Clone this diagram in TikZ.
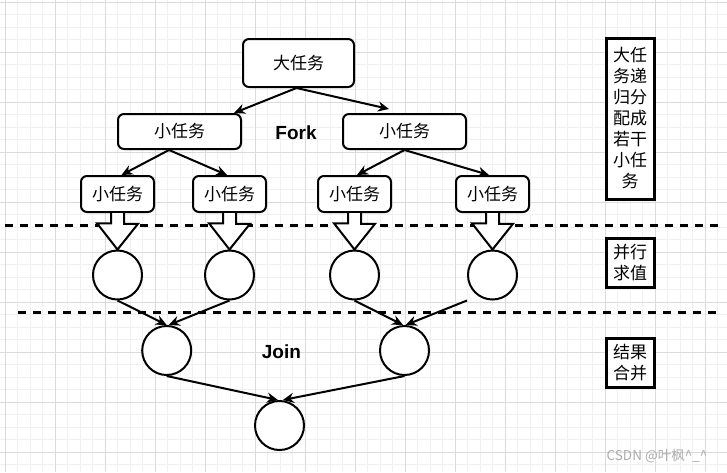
\documentclass[tikz,border=0pt]{standalone}
\usepackage{fontspec}
\setmainfont{Liberation Sans}
\newfontfamily\cjk{Noto Sans CJK SC}
\usetikzlibrary{positioning,arrows.meta}

\begin{document}
\begin{tikzpicture}[x=1pt,y=-1pt,
        task/.style={draw, line width=2pt, rounded corners=6pt, fill=white, inner sep=0pt,
            font=\cjk\fontsize{17}{20}\selectfont},
        res/.style={draw, circle, line width=2pt, fill=white, minimum size=49pt, inner sep=0pt},
        note/.style={draw, line width=3pt, fill=white, minimum width=48pt, align=center, inner sep=0pt,
            font=\cjk\fontsize{17}{21}\selectfont},
        link/.style={line width=2pt, -{Stealth[length=11pt,width=10pt]}},
        hollow/.style={line width=2pt, fill=white, line join=miter},
        cut/.style={line width=3pt, dash pattern=on 8pt off 7pt},
        tag/.style={font=\bfseries\fontsize{19}{22}\selectfont}]
    \useasboundingbox (0,0) rectangle (727,472);
    \fill[white] (0,0) rectangle (727,472);
    \foreach \x in {-7.5,5,...,727} \draw[gray!12, line width=0.8pt] (\x,0) -- (\x,472);
    \foreach \y in {-10.5,2,...,472} \draw[gray!12, line width=0.8pt] (0,\y) -- (727,\y);
    \foreach \x in {5,55,...,705} \draw[gray!28, line width=0.8pt] (\x,0) -- (\x,472);
    \foreach \y in {2,52,...,452} \draw[gray!28, line width=0.8pt] (0,\y) -- (727,\y);

    \draw[cut] (5,225) -- (719,225);
    \draw[cut] (18,312.7) -- (716,312.7);

    \node[task, minimum width=111pt, minimum height=48pt] (big) at (298.5,63) {大任务};
    \node[task, minimum width=123pt, minimum height=35pt] (l1a) at (179.5,131.5) {小任务};
    \node[task, minimum width=123pt, minimum height=35pt] (l1b) at (404.5,131.5) {小任务};
    \node[tag] (fork) at (296,133) {Fork};

    \foreach \n/\x in {a/117.5,b/229.5,c/354.5,d/492.5} {
        \node[task, minimum width=73pt, minimum height=36pt] (l2\n) at (\x,194) {小任务};
        \node[res] (c\n) at (\x,275) {};
        \draw[hollow] ([xshift=-6.5pt]l2\n.south) -- ++(0,10.3) -- ++(-14,0) -- (c\n.north)
            -- ++(20.5,-25.7) -- ++(-14,0) -- ([xshift=6.5pt]l2\n.south);
    }

    \node[res] (ja) at (166.7,350.5) {};
    \node[res] (jb) at (404.5,350.5) {};
    \node[res] (jc) at (279.5,425.5) {};
    \node[tag] (join) at (281.4,351.7) {Join};

    \draw[link] ([xshift=-2pt]big.south) -- ([xshift=54.5pt]l1a.north);
    \draw[link] ([xshift=-2pt]big.south) -- ([xshift=-15.5pt,yshift=4pt]l1b.north);
    \draw[link] ([xshift=-10.5pt]l1a.south) -- ([xshift=4pt]l2a.north);
    \draw[link] ([xshift=-10.5pt]l1a.south) -- ([xshift=-2.5pt]l2b.north);
    \draw[link] (l1b.south) -- ([xshift=2.5pt]l2c.north);
    \draw[link] (l1b.south) -- ([xshift=-3.5pt]l2d.north);

    \draw[link] (ca.south) -- (ja.north);
    \draw[link] (cb.south) -- ([xshift=2pt]ja.north);
    \draw[link] (cc.south) -- ([xshift=-1.5pt]jb.north);
    \draw[link] ([xshift=-25.5pt]cd.south) -- ([xshift=1.2pt]jb.north);
    \draw[link] (ja.south) -- ([xshift=-1.5pt]jc.north);
    \draw[link] (jb.south) -- ([xshift=3.3pt]jc.north);

    \node[note, minimum height=161pt] (split) at (630,118.5) {大任\\务递\\归分\\配成\\若干\\小任\\务};
    \node[note, minimum height=49pt] (calc) at (630,262.5) {并行\\求值};
    \node[note, minimum height=49pt] (merge) at (630,362.5) {结果\\合并};

    \node[text=gray!65, font=\cjk\fontsize{13.5}{15}\selectfont] (mark) at (657,456)
        {CSDN @叶枫\textasciicircum\_\textasciicircum};
\end{tikzpicture}
\end{document}
